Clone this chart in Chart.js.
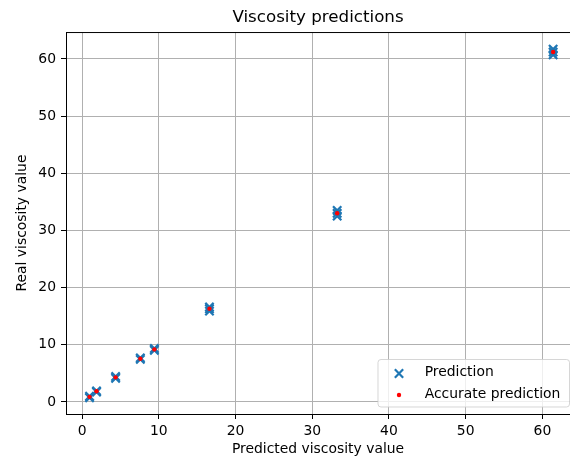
<!DOCTYPE html>
<html>
<head>
<meta charset="utf-8">
<title>Viscosity predictions</title>
<script src="https://cdn.jsdelivr.net/npm/chart.js@4.4.1/dist/chart.umd.min.js"></script>
<style>
  html, body { margin: 0; padding: 0; background: #fff; overflow: hidden; }
  #wrap { width: 570px; height: 459px; }
</style>
</head>
<body>
<div id="wrap"><canvas id="chart" width="570" height="459"></canvas></div>
<script>
// Predicted vs. real viscosity for each test sample
const predicted = [0.97, 0.97, 1.88, 1.88, 4.37, 4.37, 7.59, 7.59, 9.42, 9.42,
                   16.6, 16.6, 16.6, 33.25, 33.25, 33.25, 61.4, 61.4, 61.4];
const real      = [0.75, 1.0, 1.75, 1.95, 4.15, 4.45, 7.45, 7.7, 9.05, 9.35,
                   15.9, 16.3, 16.6, 32.5, 33.0, 33.5, 60.7, 61.2, 61.7];

// Samples where prediction and measurement coincide
const accurateX = [0.97, 1.88, 4.37, 7.59, 9.42, 16.6, 33.25, 61.4];
const accurateY = [0.9, 1.87, 4.31, 7.56, 9.2, 16.3, 33.0, 61.2];

// Axis ticks
const xTicks = [0, 10, 20, 30, 40, 50, 60];
const yTicks = [0, 10, 20, 30, 40, 50, 60];

const FONT = 'DejaVu Sans';
const FS = 13.9;
const BLUE = '#1f77b4';

const predictionPoints = predicted.map((x, i) => ({ x, y: real[i] }));
const accuratePoints = accurateX.map((x, i) => ({ x, y: accurateY[i] }));

// Top spine and an in-axes legend in the lower right corner
const frameAndLegend = {
  id: 'frameAndLegend',
  afterDatasetsDraw(chart) {
    const { ctx, chartArea: a } = chart;
    ctx.save();
    ctx.strokeStyle = '#000';
    ctx.lineWidth = 1;
    ctx.beginPath();
    ctx.moveTo(a.left, a.top + 0.5);
    ctx.lineTo(a.right, a.top + 0.5);
    ctx.stroke();

    const right = a.right - 0.5, bottom = a.bottom - 7;
    const w = 191.5, h = 47.5;
    const left = right - w, top = bottom - h;
    const r = 3;
    ctx.beginPath();
    ctx.moveTo(left + r, top);
    ctx.lineTo(right - r, top);
    ctx.arcTo(right, top, right, top + r, r);
    ctx.lineTo(right, bottom - r);
    ctx.arcTo(right, bottom, right - r, bottom, r);
    ctx.lineTo(left + r, bottom);
    ctx.arcTo(left, bottom, left, bottom - r, r);
    ctx.lineTo(left, top + r);
    ctx.arcTo(left, top, left + r, top, r);
    ctx.closePath();
    ctx.globalAlpha = 0.8;
    ctx.fillStyle = '#ffffff';
    ctx.fill();
    ctx.strokeStyle = '#cccccc';
    ctx.lineWidth = 1;
    ctx.stroke();
    ctx.globalAlpha = 1;

    const entries = [chart.data.datasets[0], chart.data.datasets[1]];
    const rowY = [top + 14, top + 35.5];
    const markerX = left + 21;
    const textX = left + 46.7;
    entries.forEach((ds, i) => {
      ctx.strokeStyle = ds.borderColor;
      ctx.fillStyle = ds.backgroundColor;
      ctx.lineWidth = ds.pointBorderWidth;
      Chart.helpers.drawPoint(ctx, {
        pointStyle: ds.pointStyle,
        radius: ds.pointRadius,
        borderWidth: ds.pointBorderWidth,
        rotation: 0
      }, markerX, rowY[i]);
      ctx.fillStyle = '#000';
      ctx.font = FS + 'px "' + FONT + '"';
      ctx.textAlign = 'left';
      ctx.textBaseline = 'middle';
      ctx.fillText(ds.label, textX, rowY[i] - 1);
    });
    ctx.restore();
  }
};

new Chart(document.getElementById('chart'), {
  type: 'scatter',
  data: {
    datasets: [
      {
        label: 'Prediction',
        data: predictionPoints,
        pointStyle: 'crossRot',
        pointRadius: 5.9,
        pointBorderWidth: 2.2,
        borderColor: BLUE,
        backgroundColor: BLUE,
        order: 1
      },
      {
        label: 'Accurate prediction',
        data: accuratePoints,
        pointStyle: 'circle',
        pointRadius: 2.2,
        pointBorderWidth: 0,
        borderColor: '#ff0000',
        backgroundColor: '#ff0000',
        order: 0
      }
    ]
  },
  options: {
    responsive: false,
    animation: false,
    devicePixelRatio: 1,
    layout: { autoPadding: false, padding: { left: 0, right: 0, top: 0, bottom: 0 } },
    plugins: {
      legend: { display: false },
      tooltip: { enabled: false },
      title: {
        display: true,
        text: 'Viscosity predictions',
        fullSize: false,
        color: '#000',
        font: { family: FONT, size: 16.7, weight: 'normal' },
        padding: { top: 8, bottom: 4 }
      }
    },
    scales: {
      x: {
        type: 'linear',
        min: -2.1,
        max: 63.6,
        afterBuildTicks: s => { s.ticks = xTicks.map(v => ({ value: v })); },
        afterFit: s => { s.height = 45; s.paddingLeft = 0; s.paddingRight = 0; },
        ticks: {
          color: '#000',
          font: { family: FONT, size: FS },
          padding: 4.5,
          maxRotation: 0,
          autoSkip: false,
          callback: v => String(v)
        },
        grid: { color: '#b0b0b0', lineWidth: 1, tickLength: 5, tickColor: '#000', tickWidth: 1 },
        border: { color: '#000', width: 1 },
        title: {
          display: true,
          text: 'Predicted viscosity value',
          color: '#000',
          font: { family: FONT, size: FS },
          padding: { top: 0, bottom: 1.7 }
        }
      },
      y: {
        type: 'linear',
        min: -2.1,
        max: 64.7,
        afterBuildTicks: s => { s.ticks = yTicks.map(v => ({ value: v })); },
        afterFit: s => { s.width = 66; s.paddingTop = 0; s.paddingBottom = 0; },
        ticks: {
          color: '#000',
          font: { family: FONT, size: FS },
          padding: 5,
          autoSkip: false,
          callback: v => String(v)
        },
        grid: { color: '#b0b0b0', lineWidth: 1, tickLength: 5, tickColor: '#000', tickWidth: 1 },
        border: { color: '#000', width: 1 },
        title: {
          display: true,
          text: 'Real viscosity value',
          color: '#000',
          font: { family: FONT, size: FS },
          padding: { top: 14, bottom: 0 }
        }
      }
    }
  },
  plugins: [frameAndLegend]
});
</script>
</body>
</html>
